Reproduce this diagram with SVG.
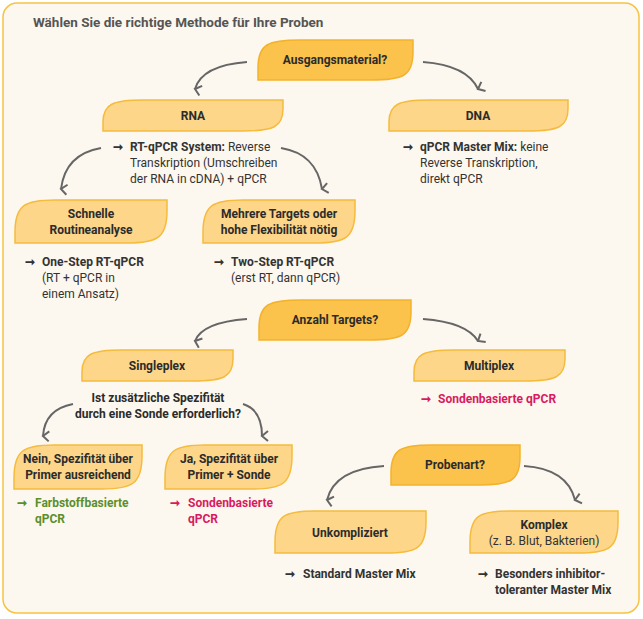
<svg xmlns="http://www.w3.org/2000/svg" width="643" height="619" viewBox="0 0 643 619">
<defs>
<style>
text{font-family:Roboto,"Liberation Sans",sans-serif;font-size:12px;fill:#333}
.b{font-weight:bold}
.n{text-anchor:middle;font-weight:bold;fill:#2b2b2b}
.q{fill:#fbc24c;stroke:#f3b22c;stroke-width:1.5}
.a{fill:#fdd68a;stroke:#f5bb3c;stroke-width:1.5}
.c{fill:none;stroke:#666;stroke-width:2;marker-end:url(#m)}
.pink{fill:#d81b60;font-weight:bold}
.green{fill:#5b8f2d;font-weight:bold}
</style>
<marker id="m" viewBox="0 0 12 12" refX="6" refY="10" markerWidth="12" markerHeight="12" markerUnits="userSpaceOnUse" orient="auto"><path d="M1,4 L6,10 L11,4" fill="none" stroke="#666" stroke-width="2"/></marker>
</defs>
<rect x="3" y="3" width="636" height="610" rx="14" fill="#fdf8ef" stroke="#f6c343" stroke-width="1.5"/>
<text x="33" y="27" class="b" style="font-size:13.5px;fill:#555">Wählen Sie die richtige Methode für Ihre Proben</text>
<g id="connectors">
<path class="c" d="M247,62 C220,64 200,72 195,89"/>
<path class="c" d="M423,62 C450,64 470,72 478,89"/>
<path class="c" d="M101,148 C78,152 64,165 61,189"/>
<path class="c" d="M281,148 C305,152 318,165 322,189"/>
<path class="c" d="M247,319 C220,321 200,328 195,341"/>
<path class="c" d="M423,319 C450,321 470,328 478,341"/>
<path class="c" d="M73,404 C52,408 44,420 43,436"/>
<path class="c" d="M243,404 C256,408 262,420 262,436"/>
<path class="c" d="M384,466 C350,468 332,480 327,500"/>
<path class="c" d="M524,466 C555,468 570,480 575,500"/>
</g>
<g id="n-ausgang"><path class="q" d="M258,80 L258,68 C258,44 268,40 300,40 L413,40 L413,52 C413,76 403,80 371,80 Z"/><text x="335" y="64" class="n">Ausgangsmaterial?</text></g>
<g id="n-rna"><path class="a" d="M103,131 L103,122 C103,104 113,100 143,100 L283,100 L283,109 C283,127 273,131 243,131 Z"/><text x="193" y="120" class="n">RNA</text></g>
<g id="n-dna"><path class="a" d="M389,131 L389,122 C389,104 399,100 429,100 L568,100 L568,109 C568,127 558,131 528,131 Z"/><text x="478" y="120" class="n">DNA</text></g>
<g id="t-rna"><text x="113" y="151"><tspan class="b">➞</tspan><tspan x="130" class="b">RT-qPCR System:</tspan> Reverse</text><text x="130" y="167">Transkription (Umschreiben</text><text x="130" y="183">der RNA in cDNA) + qPCR</text></g>
<g id="t-dna"><text x="403" y="151"><tspan class="b">➞</tspan><tspan x="420" class="b">qPCR Master Mix:</tspan> keine</text><text x="420" y="167">Reverse Transkription,</text><text x="420" y="183">direkt qPCR</text></g>
<g id="n-schnell"><path class="a" d="M15,243 L15,232 C15,205 25,200 55,200 L167,200 L167,211 C167,238 157,243 127,243 Z"/><text x="91" y="218" class="n">Schnelle</text><text x="91" y="234" class="n">Routineanalyse</text></g>
<g id="n-mehrere"><path class="a" d="M203,243 L203,232 C203,205 213,200 243,200 L355,200 L355,211 C355,238 345,243 315,243 Z"/><text x="279" y="218" class="n">Mehrere Targets oder</text><text x="279" y="234" class="n">hohe Flexibilität nötig</text></g>
<g id="t-one"><text x="25" y="266" class="b">➞</text><text x="42" y="266" class="b">One-Step RT-qPCR</text><text x="42" y="282">(RT + qPCR in</text><text x="42" y="298">einem Ansatz)</text></g>
<g id="t-two"><text x="214" y="266" class="b">➞</text><text x="231" y="266" class="b">Two-Step RT-qPCR</text><text x="231" y="282">(erst RT, dann qPCR)</text></g>
<g id="n-anzahl"><path class="q" d="M259,340 L259,328 C259,304 269,300 301,300 L411,300 L411,312 C411,336 401,340 369,340 Z"/><text x="335" y="324" class="n">Anzahl Targets?</text></g>
<g id="n-single"><path class="a" d="M82,381 L82,372 C82,354 92,350 122,350 L233,350 L233,359 C233,377 223,381 193,381 Z"/><text x="157" y="370" class="n">Singleplex</text></g>
<g id="n-multi"><path class="a" d="M414,381 L414,372 C414,354 424,350 454,350 L565,350 L565,359 C565,377 555,381 525,381 Z"/><text x="489" y="370" class="n">Multiplex</text></g>
<g id="t-multi"><text x="421" y="403" class="pink">➞</text><text x="438" y="403" class="pink">Sondenbasierte qPCR</text></g>
<g id="t-frage"><text x="158" y="402" class="n">Ist zusätzliche Spezifität</text><text x="158" y="418" class="n">durch eine Sonde erforderlich?</text></g>
<g id="n-nein"><path class="a" d="M14,489 L14,478 C14,450 24,445 54,445 L142,445 L142,456 C142,484 132,489 102,489 Z"/><text x="78" y="463" class="n">Nein, Spezifität über</text><text x="78" y="479" class="n">Primer ausreichend</text></g>
<g id="n-ja"><path class="a" d="M165,489 L165,478 C165,450 175,445 205,445 L292,445 L292,456 C292,484 282,489 252,489 Z"/><text x="229" y="463" class="n">Ja, Spezifität über</text><text x="229" y="479" class="n">Primer + Sonde</text></g>
<g id="t-nein"><text x="17" y="507" class="green">➞</text><text x="35" y="507" class="green">Farbstoffbasierte</text><text x="35" y="523" class="green">qPCR</text></g>
<g id="t-ja"><text x="170" y="507" class="pink">➞</text><text x="188" y="507" class="pink">Sondenbasierte</text><text x="188" y="523" class="pink">qPCR</text></g>
<g id="n-proben"><path class="q" d="M391,485 L391,473 C391,449 401,445 431,445 L520,445 L520,457 C520,481 510,485 480,485 Z"/><text x="455" y="469" class="n">Probenart?</text></g>
<g id="n-unk"><path class="a" d="M275,553 L275,542 C275,515 285,511 315,511 L426,511 L426,522 C426,549 416,553 386,553 Z"/><text x="350" y="537" class="n">Unkompliziert</text></g>
<g id="n-komplex"><path class="a" d="M470,553 L470,542 C470,515 480,511 510,511 L618,511 L618,522 C618,549 608,553 578,553 Z"/><text x="544" y="529" class="n">Komplex</text><text x="544" y="545" style="text-anchor:middle">(z. B. Blut, Bakterien)</text></g>
<g id="t-unk"><text x="285" y="578" class="b">➞</text><text x="303" y="578" class="b">Standard Master Mix</text></g>
<g id="t-komplex"><text x="478" y="578" class="b">➞</text><text x="495" y="578" class="b">Besonders inhibitor-</text><text x="495" y="594" class="b">toleranter Master Mix</text></g>
</svg>
